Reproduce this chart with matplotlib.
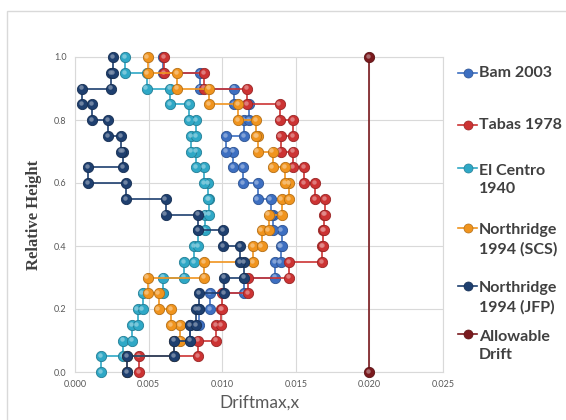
import numpy as np
import matplotlib
matplotlib.use("Agg")
import matplotlib.pyplot as plt
from matplotlib.patches import Rectangle
from matplotlib.lines import Line2D
from matplotlib import transforms
from matplotlib.colors import to_rgb

# Floor levels (relative height) and inter-storey drift of each storey (storey 1 at bottom)
levels = [0.00, 0.05, 0.10, 0.15, 0.20, 0.25, 0.30, 0.35, 0.40, 0.45, 0.50,
          0.55, 0.60, 0.65, 0.70, 0.75, 0.80, 0.85, 0.90, 0.95, 1.00]

bam_2003 = [0.00356, 0.00671, 0.00781, 0.00842, 0.00918, 0.01151, 0.01362, 0.01397,
            0.01404, 0.01342, 0.01329, 0.01240, 0.01144, 0.01075, 0.01027, 0.01151,
            0.01185, 0.01082, 0.00849, 0.00596]
tabas_1978 = [0.00438, 0.00836, 0.00959, 0.00993, 0.01000, 0.01178, 0.01452, 0.01678,
              0.01685, 0.01692, 0.01699, 0.01630, 0.01555, 0.01479, 0.01397, 0.01479,
              0.01390, 0.01171, 0.00877, 0.00603]
el_centro_1940 = [0.00178, 0.00329, 0.00390, 0.00425, 0.00459, 0.00596, 0.00740, 0.00808,
                  0.00836, 0.00884, 0.00911, 0.00904, 0.00877, 0.00822, 0.00788, 0.00822,
                  0.00774, 0.00644, 0.00486, 0.00342]
northridge_scs = [0.00356, 0.00671, 0.00712, 0.00651, 0.00568, 0.00493, 0.00877, 0.01212,
                  0.01267, 0.01315, 0.01404, 0.01452, 0.01425, 0.01342, 0.01240, 0.01233,
                  0.01110, 0.00911, 0.00692, 0.00493]
northridge_jfp = [0.00356, 0.00671, 0.00781, 0.00822, 0.00842, 0.01014, 0.01151, 0.01123,
                  0.01007, 0.00836, 0.00616, 0.00349, 0.00089, 0.00329, 0.00315, 0.00226,
                  0.00116, 0.00048, 0.00247, 0.00260]
allowable_drift = 0.020

series_names = ["Bam 2003", "Tabas 1978", "El Centro\n1940",
                "Northridge\n1994 (SCS)", "Northridge\n1994 (JFP)"]
series_values = [bam_2003, tabas_1978, el_centro_1940, northridge_scs, northridge_jfp]
series_colors = ["#3D6FC1", "#CC3333", "#2FA8C6", "#F0941E", "#1E3F6F"]
allowable_name = "Allowable\nDrift"
allowable_color = "#7A1A1E"

x_ticks = [0.000, 0.005, 0.010, 0.015, 0.020, 0.025]
y_ticks = [0.0, 0.2, 0.4, 0.6, 0.8, 1.0]

W, H = 566, 420
fig = plt.figure(figsize=(W / 100, H / 100), dpi=100)
fig.patch.set_facecolor("white")

# chart-area frame
fig.patches.append(Rectangle((7 / W, -0.05), 1.2, 1 - 11 / H + 0.05,
                             transform=fig.transFigure, fill=False,
                             edgecolor="#D9D9D9", linewidth=1.0, zorder=0))

ax = fig.add_axes([75 / W, 1 - 372 / H, (443 - 75) / W, (372 - 57) / H])
ax.set_xlim(0, 0.025)
ax.set_ylim(0, 1.0)
ax.set_xticks(x_ticks)
ax.set_yticks(y_ticks)
ax.set_xticklabels([f"{v:.3f}" for v in x_ticks])
ax.set_yticklabels([f"{v:.1f}" for v in y_ticks])
ax.tick_params(length=0, labelsize=6.5, labelcolor="#595959", pad=6)
for lab in ax.get_xticklabels() + ax.get_yticklabels():
    lab.set_family("Lato")
ax.grid(True, color="#D9D9D9", linewidth=0.8)
ax.set_axisbelow(True)
for sp in ax.spines.values():
    sp.set_color("#D9D9D9")
    sp.set_linewidth(0.8)


def lighten(c, f):
    r, g, b = to_rgb(c)
    return (r + (1 - r) * f, g + (1 - g) * f, b + (1 - b) * f)


def darken(c, f):
    r, g, b = to_rgb(c)
    return (r * (1 - f), g * (1 - f), b * (1 - f))


hl = transforms.offset_copy(ax.transData, fig=fig, x=-1.2, y=1.2, units="dots")


def draw_sphere_series(xs, ys, color):
    ax.plot(xs, ys, "-", color=color, linewidth=1.2, zorder=3, clip_on=False)
    ax.plot(xs, ys, "o", markersize=7.4, markerfacecolor=color,
            markeredgecolor=darken(color, 0.25), markeredgewidth=0.6,
            zorder=3, clip_on=False)
    ax.plot(xs, ys, "o", markersize=3.2, markerfacecolor=lighten(color, 0.45),
            markeredgewidth=0, alpha=0.8, zorder=3, clip_on=False, transform=hl)


# each storey is drawn as a vertical segment between its floor levels
for vals, col in zip(series_values, series_colors):
    xs, ys = [], []
    for i, d in enumerate(vals):
        xs += [d, d]
        ys += [levels[i], levels[i + 1]]
    draw_sphere_series(xs, ys, col)

draw_sphere_series([allowable_drift, allowable_drift], [levels[0], levels[-1]],
                   allowable_color)

ax.set_xlabel("Driftmax,x", family="Lato", fontsize=12.5, color="#595959", labelpad=4)
ax.set_ylabel("Relative Height", family="Liberation Serif", fontweight="bold",
              fontsize=12, color="#404040", labelpad=9)

# legend
legend_y = [73, 125, 180, 240, 298, 346]
names = series_names + [allowable_name]
colors = series_colors + [allowable_color]
for ly, name, col in zip(legend_y, names, colors):
    yf = 1 - ly / H
    if "\n" in name:
        yline = yf + 12 / H
    else:
        yline = yf
    fig.add_artist(Line2D([458 / W, 477 / W], [yline, yline], color=col,
                          linewidth=1.2, transform=fig.transFigure))
    fig.add_artist(Line2D([467.5 / W], [yline], marker="o", markersize=6.5,
                          markerfacecolor=col, markeredgecolor=darken(col, 0.25),
                          markeredgewidth=0.5, transform=fig.transFigure))
    fig.text(479 / W, yf, name, family="Lato", fontweight="bold", fontsize=11.5,
             color="#404040", va="center", ha="left", linespacing=1.45)

fig.savefig("out.png", dpi=100)
